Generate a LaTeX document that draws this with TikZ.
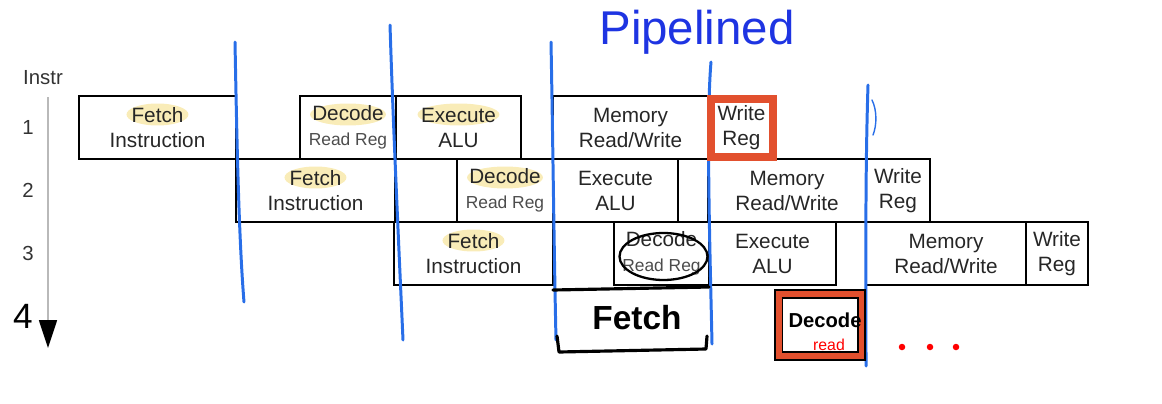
\documentclass[tikz,border=0pt]{standalone}
\usepackage{fontspec}
\setmainfont{Liberation Sans}
\usetikzlibrary{arrows.meta,backgrounds,calc}

\definecolor{pipeblue}{RGB}{30,52,226}
\definecolor{penblue}{RGB}{40,110,232}
\definecolor{penred}{RGB}{226,80,46}
\definecolor{hlyellow}{RGB}{247,230,160}

\newcommand{\rdreg}{{\color{black!70}\fontsize{9.9}{14.2}\selectfont Read Reg}}

\tikzset{
  stagebox/.style={draw, line width=1.1pt, inner sep=0pt, outer sep=0pt, anchor=north west,
    minimum height=1.26cm, align=center, text=black!85, font=\fontsize{11.8}{14.2}\selectfont},
  rownum/.style={text=black!80, font=\fontsize{11.6}{12}\selectfont},
  penline/.style={penblue, line width=1.7pt, line cap=round},
  hand/.style={black, line width=1.8pt, line cap=round, line join=round}
}

\begin{document}
\begin{tikzpicture}[x=0.02cm, y=-0.02cm]
  \useasboundingbox (0,0) rectangle (1162,403);

  % Title
  \node[text=pipeblue, font=\fontsize{27}{27}\selectfont] (title) at (697,32) {Pipelined};

  % Axis
  \node[rownum] (instr) at (43,78) {Instr};
  \node[rownum] (n1) at (28,127) {1};
  \node[rownum] (n2) at (28,190) {2};
  \node[rownum] (n3) at (28,253) {3};
  \node[font=\fontsize{20}{20}\selectfont] (n4) at (23,316) {4};
  \coordinate (top) at (48,97);
  \coordinate (tip) at (48,348);
  \draw[gray!55, line width=1pt, -{Triangle[color=black, width=0.36cm, length=0.56cm]}] (top) -- (tip);

  % Stages
  \node[stagebox, minimum width=3.14cm] (f1) at (79,96) {Fetch\\Instruction};
  \node[stagebox, minimum width=1.92cm] (d1) at (300,96) {Decode\\\rdreg};
  \node[stagebox, minimum width=2.50cm] (e1) at (396,96) {Execute\\ALU};
  \node[stagebox, minimum width=3.10cm] (m1) at (553,96) {Memory\\Read/Write};
  \node[stagebox, minimum width=1.34cm] (w1) at (708,96) {Write\\Reg};

  \node[stagebox, minimum width=3.18cm] (f2) at (236,159) {Fetch\\Instruction};
  \node[stagebox, minimum width=1.92cm] (d2) at (457,159) {Decode\\\rdreg};
  \node[stagebox, minimum width=2.50cm] (e2) at (553,159) {Execute\\ALU};
  \node[stagebox, minimum width=3.16cm] (m2) at (708,159) {Memory\\Read/Write};
  \node[stagebox, minimum width=1.28cm] (w2) at (866,159) {Write\\Reg};

  \node[stagebox, minimum width=3.18cm] (f3) at (394,222) {Fetch\\Instruction};
  \node[stagebox, minimum width=1.90cm] (d3) at (614,222) {Decode\\\rdreg};
  \node[stagebox, minimum width=2.54cm] (e3) at (709,222) {Execute\\ALU};
  \node[stagebox, minimum width=3.20cm] (m3) at (866,222) {Memory\\Read/Write};
  \node[stagebox, minimum width=1.24cm] (w3) at (1026,222) {Write\\Reg};

  % Highlights
  \begin{scope}[on background layer]
    \foreach \n/\r in {f1/0.62, f2/0.62, f3/0.62, d1/0.76, d2/0.76, e1/0.82}
      \fill[hlyellow, opacity=0.75] ($(\n.center)+(0,-13)$) ellipse [x radius=\r cm, y radius=0.22cm];
  \end{scope}

  % Pen strokes
  \draw[penline] (235,42) .. controls (237,150) and (239,240) .. (244,302);
  \draw[penline] (390,25) .. controls (393,120) and (398,230) .. (403,340);
  \draw[penline] (551,42) .. controls (553,150) and (554,250) .. (556,340);
  \draw[penline] (711,62) .. controls (706,120) and (710,250) .. (712,344);
  \draw[penline] (868,85) .. controls (865,180) and (866,280) .. (866,366);
  \draw[penline, line width=0.8pt] (872,100) .. controls (877,110) and (877,125) .. (873,135);

  \draw[penred, line width=4pt] ([shift={(3,3)}]w1.north west) rectangle ([shift={(-2,-2)}]w1.south east);
  \draw[line width=1.3pt] ($(d3.center)+(2,3)$) ellipse [x radius=0.88cm, y radius=0.47cm];

  % Next fetch
  \draw[hand] (553,290) -- (709,287);
  \draw[hand] (557,336) -- (559,352) -- (706,349) -- (707,336);
  \node[font=\bfseries\fontsize{19}{19}\selectfont] (fetch) at (637,318) {Fetch};

  % Next decode
  \node[draw=black, double=penred, double distance=3.4pt, line width=0.9pt,
    minimum width=1.66cm, minimum height=1.24cm, inner sep=0pt] (dec) at (820,325) {};
  \node[font=\bfseries\fontsize{11.5}{11.5}\selectfont] (dectxt) at (825,320) {Decode};
  \node[text=red, font=\fontsize{9}{9}\selectfont] (read) at (829,345) {read};

  \foreach \x in {902,930,956}
    \fill[red] (\x,347) circle [radius=0.065cm];
\end{tikzpicture}
\end{document}
